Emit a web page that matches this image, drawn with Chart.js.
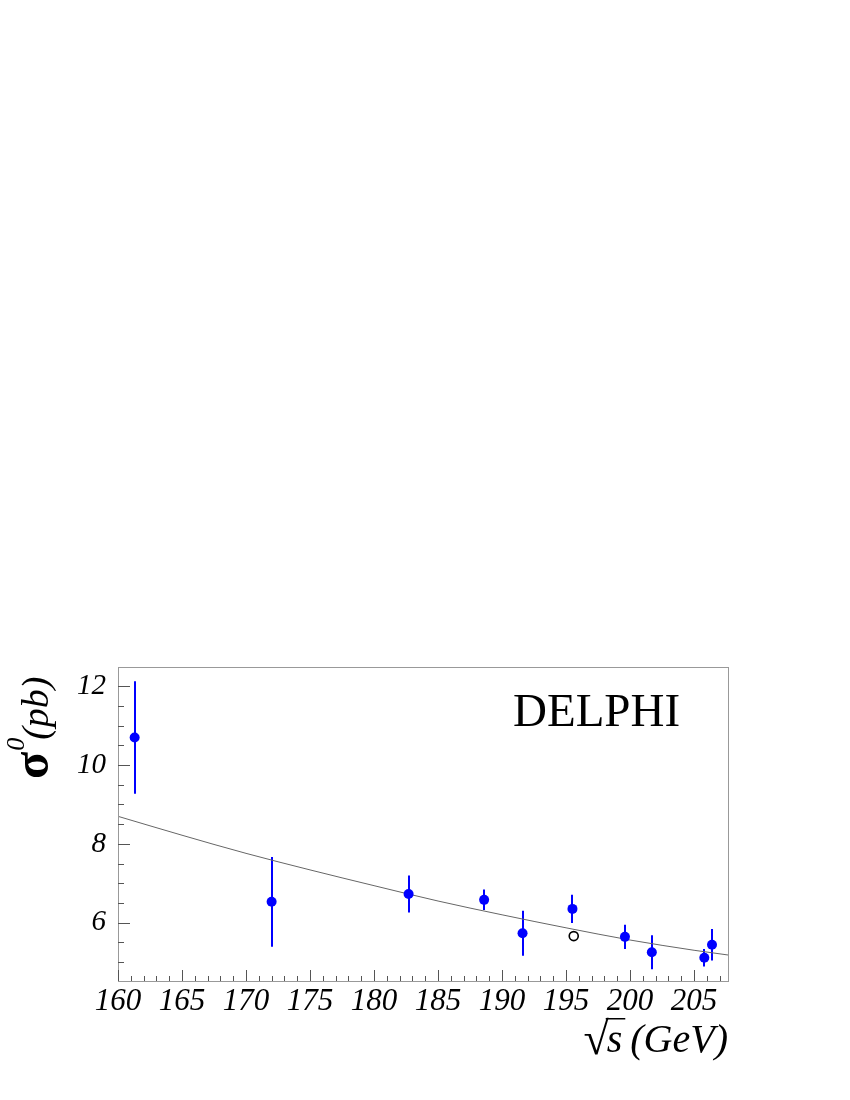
<!DOCTYPE html>
<html>
<head>
<meta charset="utf-8">
<script src="https://cdn.jsdelivr.net/npm/chart.js@4"></script>
<style>
  body { margin: 0; background: #fff; }
  canvas { display: block; }
</style>
</head>
<body>
<canvas id="chart" width="850" height="1100"></canvas>
<script>
// measured cross sections (DELPHI)
const energies = [161.3, 172.0, 182.7, 188.6, 191.6, 195.5, 199.6, 201.7, 205.8, 206.4];
const sigmas = [10.70, 6.53, 6.73, 6.58, 5.73, 6.35, 5.64, 5.25, 5.11, 5.44];
const errors = [1.43, 1.14, 0.47, 0.26, 0.57, 0.36, 0.31, 0.43, 0.22, 0.40];

// open marker
const openEnergies = [195.6];
const openSigmas = [5.66];

// expectation curve
const curveEnergies = [160, 165, 170, 175, 180, 185, 190, 195, 200, 205, 207.65];
const curveSigmas = [8.70, 8.22, 7.76, 7.34, 6.94, 6.55, 6.20, 5.87, 5.56, 5.30, 5.18];

// axis ticks
const xTicks = [160, 165, 170, 175, 180, 185, 190, 195, 200, 205];
const yTicks = [6, 8, 10, 12];

const serif = '"Liberation Serif", "Times New Roman", serif';

const framePlugin = {
  id: 'frame',
  beforeDatasetsDraw(chart) {
    const { ctx, scales: { x, y } } = chart;
    ctx.save();
    ctx.strokeStyle = '#0000ff';
    ctx.lineWidth = 2;
    energies.forEach((e, i) => {
      const px = Math.round(x.getPixelForValue(e));
      ctx.beginPath();
      ctx.moveTo(px, y.getPixelForValue(sigmas[i] + errors[i]));
      ctx.lineTo(px, y.getPixelForValue(sigmas[i] - errors[i]));
      ctx.stroke();
    });
    ctx.restore();
  },
  afterDatasetsDraw(chart) {
    const { ctx, chartArea: a, scales: { x, y } } = chart;
    ctx.save();
    ctx.lineWidth = 1;
    ctx.strokeStyle = '#999';
    ctx.strokeRect(a.left + 0.5, a.top + 0.5, a.right - a.left, a.bottom - a.top);

    ctx.strokeStyle = '#555';
    ctx.beginPath();
    // x ticks, pointing up into the frame
    for (let v = x.min; v <= x.max; v += 1) {
      const px = Math.round(x.getPixelForValue(v)) + 0.5;
      const len = Math.round(v) % 5 === 0 ? 11 : 5;
      ctx.moveTo(px, a.bottom);
      ctx.lineTo(px, a.bottom - len);
    }
    // y ticks, pointing right
    for (let v = 5; v <= y.max; v += 0.5) {
      const py = Math.round(y.getPixelForValue(v)) + 0.5;
      const len = v % 2 === 0 ? 12 : 6;
      ctx.moveTo(a.left, py);
      ctx.lineTo(a.left + len, py);
    }
    ctx.stroke();
    ctx.restore();
  },
  afterDraw(chart) {
    const { ctx, chartArea: a } = chart;
    ctx.save();
    ctx.fillStyle = '#000';

    // experiment label
    ctx.font = '47px ' + serif;
    ctx.textAlign = 'left';
    ctx.textBaseline = 'alphabetic';
    ctx.fillText('DELPHI', 513, 726);

    // x title: sqrt(s) (GeV), right aligned to the frame
    ctx.font = 'italic 40px ' + serif;
    ctx.textAlign = 'right';
    const base = 1052;
    let right = a.right;
    ctx.fillText('(GeV)', right, base);
    right -= ctx.measureText('(GeV)').width + 8;
    ctx.fillText('s', right, base);
    const sw = ctx.measureText('s').width;
    const sLeft = right - sw;
    ctx.font = '46px ' + serif;
    ctx.fillText('\u221A', sLeft + 2, base + 2);
    ctx.fillRect(sLeft - 1, 1018, sw + 4, 1.5);

    // y title: sigma^0 (pb), rotated
    ctx.translate(48, 779);
    ctx.rotate(-Math.PI / 2);
    ctx.textAlign = 'left';
    ctx.font = 'bold 50px ' + serif;
    ctx.fillText('\u03C3', 0, 0);
    let off = ctx.measureText('\u03C3').width + 1;
    ctx.font = 'italic 26px ' + serif;
    ctx.fillText('0', off, -24);
    off += ctx.measureText('0').width - 2;
    ctx.font = 'italic 38px ' + serif;
    ctx.fillText('(pb)', off, 0);
    ctx.restore();
  }
};

new Chart(document.getElementById('chart'), {
  type: 'scatter',
  data: {
    datasets: [
      {
        data: energies.map((e, i) => ({ x: e, y: sigmas[i] })),
        pointRadius: 5,
        pointBackgroundColor: '#0000ff',
        pointBorderColor: '#0000ff',
        pointBorderWidth: 0,
        order: 0
      },
      {
        data: openEnergies.map((e, i) => ({ x: e, y: openSigmas[i] })),
        pointRadius: 4.5,
        pointBackgroundColor: 'rgba(0,0,0,0)',
        pointBorderColor: '#000',
        pointBorderWidth: 1.6,
        order: 1
      },
      {
        type: 'line',
        data: curveEnergies.map((e, i) => ({ x: e, y: curveSigmas[i] })),
        borderColor: '#666',
        borderWidth: 1,
        pointRadius: 0,
        fill: false,
        cubicInterpolationMode: 'monotone',
        order: 2
      }
    ]
  },
  options: {
    responsive: false,
    animation: false,
    devicePixelRatio: 1,
    layout: { padding: { top: 667, right: 122, left: 0, bottom: 0 } },
    plugins: { legend: { display: false }, tooltip: { enabled: false } },
    scales: {
      x: {
        type: 'linear',
        min: 160,
        max: 207.65,
        afterBuildTicks: s => { s.ticks = xTicks.map(v => ({ value: v })); },
        afterFit: s => { s.height = 119; },
        grid: { display: false, drawTicks: false },
        border: { display: false },
        ticks: {
          color: '#000',
          padding: 2,
          maxRotation: 0,
          autoSkip: false,
          font: { family: serif, style: 'italic', size: 31 }
        }
      },
      y: {
        type: 'linear',
        min: 4.52,
        max: 12.49,
        afterBuildTicks: s => { s.ticks = yTicks.map(v => ({ value: v })); },
        afterFit: s => { s.width = 118; },
        grid: { display: false, drawTicks: false },
        border: { display: false },
        ticks: {
          color: '#000',
          padding: 12,
          font: { family: serif, style: 'italic', size: 29 }
        }
      }
    }
  },
  plugins: [framePlugin]
});
</script>
</body>
</html>
